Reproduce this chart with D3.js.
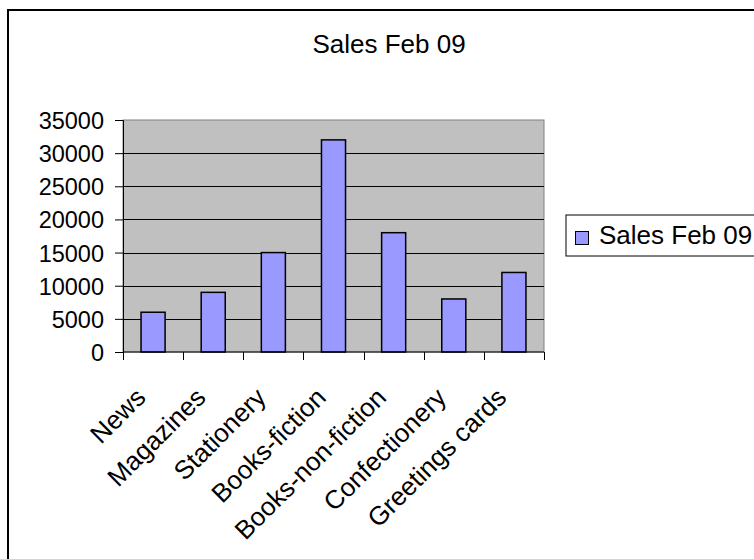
<!DOCTYPE html>
<html>
<head>
<meta charset="utf-8">
<script src="https://cdn.jsdelivr.net/npm/d3@7"></script>
<style>
  html, body { margin: 0; padding: 0; background: #fff; }
  svg { display: block; font-family: Arial, "Liberation Sans", sans-serif; }
</style>
</head>
<body>
<svg id="chart" width="754" height="559"></svg>
<script>
// Monthly sales by department
const categories = ["News", "Magazines", "Stationery", "Books-fiction",
                    "Books-non-fiction", "Confectionery", "Greetings cards"];
const salesFeb09 = [6000, 9000, 15000, 32000, 18000, 8000, 12000];
const yTicks = [0, 5000, 10000, 15000, 20000, 25000, 30000, 35000];
const chartTitle = "Sales Feb 09";
const seriesName = "Sales Feb 09";

const svg = d3.select("#chart");

// chart frame
svg.append("rect")
  .attr("x", 8).attr("y", 10)
  .attr("width", 800).attr("height", 600)
  .attr("fill", "#fff").attr("stroke", "#000").attr("stroke-width", 2);

const plot = { left: 123, right: 544, top: 120, bottom: 352 };

const x = d3.scaleBand()
  .domain(categories)
  .range([plot.left, plot.right])
  .paddingInner(0.6).paddingOuter(0.3);

const xBounds = d3.scaleLinear()
  .domain([0, categories.length])
  .range([plot.left, plot.right]);

const y = d3.scaleLinear()
  .domain([0, 35000])
  .range([plot.bottom, plot.top]);

// plot background
svg.append("rect")
  .attr("x", plot.left).attr("y", plot.top)
  .attr("width", plot.right - plot.left).attr("height", plot.bottom - plot.top)
  .attr("fill", "#C0C0C0").attr("stroke", "#808080").attr("stroke-width", 1);

// horizontal gridlines
svg.append("g")
  .selectAll("line")
  .data(yTicks.filter(v => v > 0 && v < 35000))
  .join("line")
  .attr("x1", plot.left).attr("x2", plot.right)
  .attr("y1", d => Math.round(y(d)) + 0.5).attr("y2", d => Math.round(y(d)) + 0.5)
  .attr("stroke", "#000").attr("stroke-width", 1);

// bars
svg.append("g")
  .selectAll("rect")
  .data(categories.map((c, i) => ({ c, v: salesFeb09[i] })))
  .join("rect")
  .attr("x", d => x(d.c))
  .attr("y", d => y(d.v))
  .attr("width", x.bandwidth())
  .attr("height", d => y(0) - y(d.v))
  .attr("fill", "#9999FF")
  .attr("stroke", "#000").attr("stroke-width", 1.5);

// value axis
const yAxis = d3.axisLeft(y).tickValues(yTicks).tickSize(8).tickPadding(11)
  .tickFormat(d3.format("d"));
const gy = svg.append("g")
  .attr("transform", `translate(${plot.left},0)`)
  .call(yAxis);
gy.select(".domain").attr("stroke", "#000");
gy.selectAll(".tick line").attr("stroke", "#000");
gy.selectAll(".tick text")
  .attr("fill", "#000")
  .style("font-size", "23.5px")
  .attr("dy", "0.36em");

// category axis: ticks at category boundaries
const gx = svg.append("g");
gx.append("line")
  .attr("x1", plot.left).attr("x2", plot.right)
  .attr("y1", plot.bottom).attr("y2", plot.bottom)
  .attr("stroke", "#000");
gx.selectAll("line.tick")
  .data(d3.range(categories.length + 1))
  .join("line")
  .attr("class", "tick")
  .attr("x1", d => Math.round(xBounds(d)) + 0.5)
  .attr("x2", d => Math.round(xBounds(d)) + 0.5)
  .attr("y1", plot.bottom).attr("y2", plot.bottom + 8)
  .attr("stroke", "#000");
gx.selectAll("text")
  .data(categories)
  .join("text")
  .attr("transform", d => `translate(${x(d) + x.bandwidth() / 2 - 6},${plot.bottom + 47}) rotate(-45)`)
  .attr("text-anchor", "end")
  .style("font-size", "26px")
  .attr("fill", "#000")
  .text(d => d);

// title
svg.append("text")
  .attr("x", 389).attr("y", 53)
  .attr("text-anchor", "middle")
  .style("font-size", "26px")
  .attr("fill", "#000")
  .text(chartTitle);

// legend
const lg = svg.append("g");
lg.append("rect")
  .attr("x", 566).attr("y", 215)
  .attr("width", 300).attr("height", 41)
  .attr("fill", "#fff").attr("stroke", "#000").attr("stroke-width", 1);
lg.append("rect")
  .attr("x", 575.5).attr("y", 231.5)
  .attr("width", 13).attr("height", 13)
  .attr("fill", "#9999FF").attr("stroke", "#000").attr("stroke-width", 1);
lg.append("text")
  .attr("x", 599).attr("y", 244)
  .style("font-size", "26px")
  .attr("fill", "#000")
  .text(seriesName);
</script>
</body>
</html>
